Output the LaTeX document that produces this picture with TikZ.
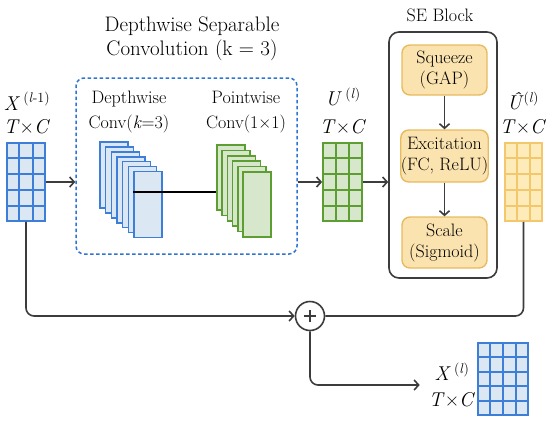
\documentclass[tikz,border=0pt]{standalone}
\usepackage{fontspec}
\usetikzlibrary{arrows.meta,calc}
\definecolor{bluln}{HTML}{3D7FD8}
\definecolor{blufl}{HTML}{DCE7F4}
\definecolor{grnln}{HTML}{5C9E31}
\definecolor{grnfl}{HTML}{D7E7CC}
\definecolor{orgln}{HTML}{F3C76C}
\definecolor{orgfl}{HTML}{FDEBB9}
\definecolor{seln}{HTML}{E8BB5E}
\definecolor{sefl}{HTML}{FBE3AF}
\definecolor{dashc}{HTML}{2F74D0}
\definecolor{lnc}{HTML}{3C3C3C}
\newcommand{\mygrid}[4]{%
  \pgfmathtruncatemacro{\nc}{#2-1}%
  \pgfmathtruncatemacro{\nr}{#3-1}%
  \foreach \k in {1,...,\nc}{\draw[#4] ($(#1.north west)!\k/#2!(#1.north east)$) -- ($(#1.south west)!\k/#2!(#1.south east)$);}%
  \foreach \k in {1,...,\nr}{\draw[#4] ($(#1.north west)!\k/#3!(#1.south west)$) -- ($(#1.north east)!\k/#3!(#1.south east)$);}%
}
\newcommand{\TC}{\textit{T}×\textit{C}}
\tikzset{
  conn/.style={draw=lnc, line width=1.6pt},
  arr/.style={conn, -{Straight Barb[length=4.5pt,width=10pt]}},
  bgrid/.style={draw=bluln, fill=blufl, line width=1.8pt, inner sep=0pt},
  ggrid/.style={draw=grnln, fill=grnfl, line width=1.8pt, inner sep=0pt},
  ogrid/.style={draw=orgln, fill=orgfl, line width=1.8pt, inner sep=0pt},
  dwrect/.style={draw=bluln, fill=blufl, line width=1.6pt, minimum width=28pt, minimum height=66pt, inner sep=0pt},
  pwrect/.style={draw=grnln, fill=grnfl, line width=1.6pt, minimum width=28pt, minimum height=65pt, inner sep=0pt},
  sebox/.style={draw=seln, fill=sefl, line width=1.4pt, rounded corners=8pt, minimum width=85pt, inner sep=0pt, align=center, font=\fontsize{18}{21}\selectfont},
  lbl/.style={inner sep=0pt, align=center, font=\fontsize{18}{25}\selectfont},
  mlbl/.style={inner sep=0pt, font=\fontsize{20}{24}\selectfont},
}
\begin{document}
\begin{tikzpicture}[x=1pt,y=-1pt]
\useasboundingbox (0,0) rectangle (550,421);

% titles
\node[inner sep=0pt, align=center, font=\fontsize{21}{24}\selectfont] (dsctitle) at (192,39) {Depthwise Separable\\Convolution (k = 3)};
\node[lbl] (setitle) at (440,15) {SE Block};

% dashed box
\node[draw=dashc, dashed, dash pattern=on 3.5pt off 2.5pt, line width=1.5pt, rounded corners=8pt, minimum width=221pt, minimum height=176pt, inner sep=0pt] (dsc) at (186.5,166) {};

% input matrix
\node[mlbl] (xinA) at (27,101) {\textit{X}\,\textsuperscript{(\textit{l}-1)}};
\node[mlbl] (xinB) at (27,127) {\TC};
\node[bgrid, minimum width=38pt, minimum height=78pt] (xin) at (26,182) {};
\mygrid{xin}{3}{5}{draw=bluln, line width=1.8pt}

% depthwise / pointwise labels
\node[lbl] (dwlbl) at (129,112) {Depthwise\\Conv(\textit{k}=3)};
\node[lbl] (pwlbl) at (246,112) {Pointwise\\Conv(1×1)};

% depthwise stack
\foreach \i in {0,...,6}{\node[dwrect] (dw\i) at (114+\i*5.67,175+\i*4.92) {};}
% pointwise stack
\foreach \i in {0,...,5}{\node[pwrect] (pw\i) at (231+\i*5.2,177.5+\i*5.4) {};}
\draw[line width=1.6pt, black] ([yshift=12.5pt]dw6.west) -- ([yshift=12.5pt]dw6.west -| pw0.west);

% U matrix
\node[mlbl] (uA) at (343,97) {\textit{U}\,\textsuperscript{(\textit{l})}};
\node[mlbl] (uB) at (343,127) {\TC};
\node[ggrid, minimum width=39pt, minimum height=78pt] (ug) at (342.5,182) {};
\mygrid{ug}{3}{5}{draw=grnln, line width=1.8pt}

% SE block
\node[draw=lnc, line width=1.6pt, rounded corners=10pt, minimum width=108pt, minimum height=246pt, inner sep=0pt] (se) at (443,155) {};
\node[sebox, minimum height=50pt] (sq) at (444.5,70) {Squeeze\\(GAP)};
\node[sebox, minimum height=52pt] (ex) at (444.5,156) {Excitation\\(FC, ReLU)};
\node[sebox, minimum height=51pt] (sc) at (444.5,242.5) {Scale\\(Sigmoid)};
\draw[arr] (sq.south) -- (ex.north);
\draw[arr] (ex.south) -- (sc.north);

% U hat matrix
\node[mlbl] (uhA) at (523,101) {\textit{Û}\textsuperscript{(\textit{l})}};
\node[mlbl] (uhB) at (523,127) {\TC};
\node[ogrid, minimum width=37pt, minimum height=78pt] (uh) at (523.5,182) {};
\mygrid{uh}{3}{5}{draw=orgln, line width=1.8pt}

% plus
\node[draw=lnc, line width=1.6pt, circle, minimum size=29pt, inner sep=0pt,
  path picture={\draw[lnc, line width=1.4pt] ($(path picture bounding box.center)+(-6pt,0pt)$) -- ($(path picture bounding box.center)+(6pt,0pt)$);
  \draw[lnc, line width=1.4pt] ($(path picture bounding box.center)+(0pt,-6pt)$) -- ($(path picture bounding box.center)+(0pt,6pt)$);}] (plus) at (310,316) {};

% output
\node[inner sep=0pt, align=center, font=\fontsize{20}{26}\selectfont] (xoutl) at (452,385) {\textit{X}\,\textsuperscript{(\textit{l})}\\\TC};
\node[bgrid, minimum width=50pt, minimum height=72pt] (xout) at (503,379) {};
\mygrid{xout}{4}{5}{draw=bluln, line width=1.8pt}

% connectors
\draw[arr] (xin.east) -- (xin.east -| dsc.west);
\draw[arr] (ug.west -| dsc.east) -- (ug.west);
\draw[arr] (ug.east) -- (ug.east -| se.west);
\draw[arr, rounded corners=8pt] (xin.south) |- (plus.west);
\draw[conn, rounded corners=8pt] (uh.south) |- (plus.east);
\draw[arr, rounded corners=8pt] (plus.south) |- ([xshift=-9pt]xoutl.west);
\end{tikzpicture}
\end{document}
